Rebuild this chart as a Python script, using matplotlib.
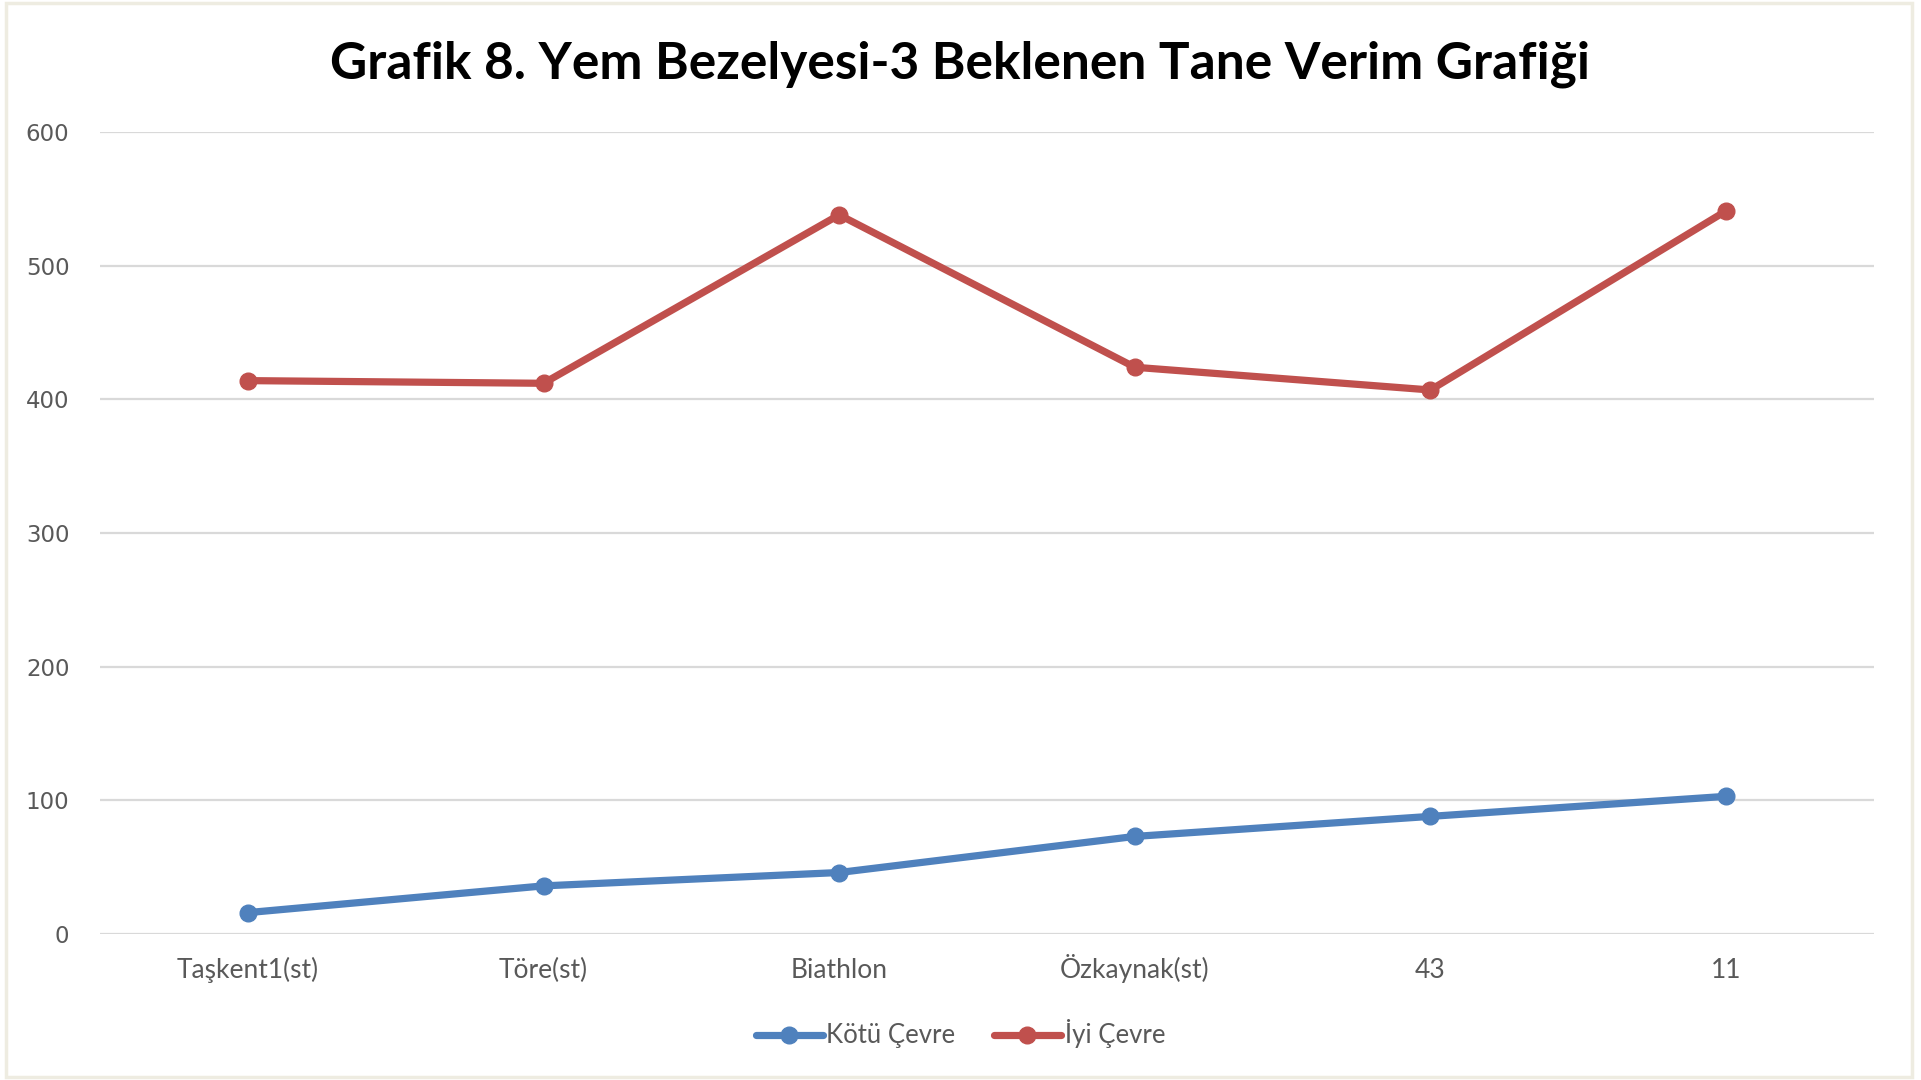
import matplotlib.pyplot as plt
from matplotlib.patches import Rectangle

# Data
categories = ['Taşkent1(st)', 'Töre(st)', 'Biathlon', 'Özkaynak(st)', '43', '11']
kotu_cevre = [16, 36, 46, 73, 88, 103]
iyi_cevre = [414, 412, 538, 424, 407, 541]
y_ticks = [0, 100, 200, 300, 400, 500, 600]

blue = '#4F81BD'
red = '#C0504D'

fig = plt.figure(figsize=(19.21, 10.80), dpi=100)
ax = fig.add_axes([100 / 1921, 1 - 934 / 1080, 1774 / 1921, 802 / 1080])

x = list(range(len(categories)))
ax.plot(x, kotu_cevre, color=blue, linewidth=5.2, marker='o', markersize=12,
        label='Kötü Çevre', solid_capstyle='round', zorder=3)
ax.plot(x, iyi_cevre, color=red, linewidth=5.2, marker='o', markersize=12,
        label='İyi Çevre', solid_capstyle='round', zorder=3)

ax.set_xlim(-0.5, len(categories) - 0.5)
ax.set_ylim(0, 600)
ax.set_yticks(y_ticks)
ax.set_xticks(x)
ax.set_xticklabels(categories, fontsize=19, color='#595959', family=['Lato', 'DejaVu Sans'],
                   va='baseline')
for lbl in ax.get_yticklabels():
    lbl.set_fontsize(16.5)
    lbl.set_color('#595959')
    lbl.set_family('DejaVu Sans')

ax.grid(axis='y', color='#D9D9D9', linewidth=1.6)
ax.set_axisbelow(True)
for s in ax.spines.values():
    s.set_visible(False)
ax.tick_params(axis='both', length=0)
ax.tick_params(axis='y', pad=22)
ax.tick_params(axis='x', pad=32)

fig.text(0.5, 1 - 64 / 1080, 'Grafik 8. Yem Bezelyesi-3 Beklenen Tane Verim Grafiği',
         ha='center', va='center', fontsize=37, fontweight='bold',
         family=['Lato', 'DejaVu Sans'], color='black')

leg = fig.legend(loc='center', bbox_to_anchor=(0.5, 1 - 1034 / 1080), ncol=2,
                 frameon=False, handlelength=2.6, handletextpad=0.15, columnspacing=1.5,
                 prop={'family': ['Lato', 'DejaVu Sans'], 'size': 18.5})
for t in leg.get_texts():
    t.set_color('#595959')

# light frame around the chart
fig.patches.append(Rectangle((6 / 1921, 3 / 1080), 1906 / 1921, 1074 / 1080,
                             transform=fig.transFigure, fill=False,
                             edgecolor='#EEECE1', linewidth=2.5))

fig.savefig('out.png', dpi=100)
